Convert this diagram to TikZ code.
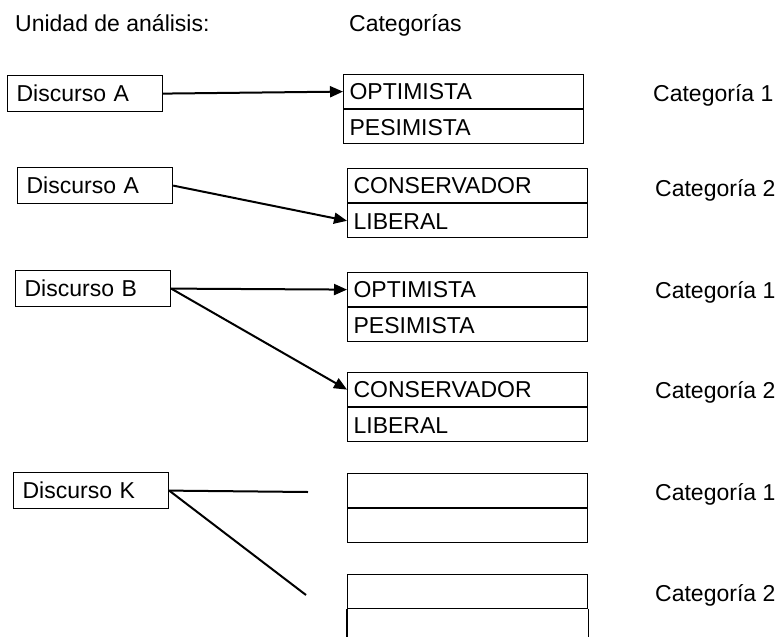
\documentclass[tikz,border=0pt]{standalone}
\usepackage{fontspec}
\setmainfont{Liberation Sans}
\usetikzlibrary{arrows.meta,positioning}

\begin{document}
\begin{tikzpicture}[
  x=1pt, y=-1pt,
  node distance=0pt,
  every node/.style={font=\fontsize{23}{27}\selectfont, text height=16.5pt, text depth=0pt},
  unitbox/.style={draw, line width=1.2pt, anchor=north west, align=left, inner xsep=9pt, inner ysep=0pt, text width=137pt, minimum height=36pt},
  catrow/.style={draw, line width=1.2pt, align=left, inner xsep=6pt, inner ysep=0pt, text width=228pt, minimum height=34pt},
  label/.style={anchor=west, inner sep=0pt},
  arr/.style={-{Triangle[length=13pt,width=11pt]}, line width=2pt},
  ln/.style={line width=2pt}
]
\useasboundingbox (0,0) rectangle (779,637);
\coordinate (bottom) at (0,637);

% headers
\node[label] (hunit) at (15,23) {Unidad de análisis:};
\node[label] (hcat) at (349,23) {Categorías};

% units of analysis
\node[unitbox] (dA1) at (7,75) {Discurso A};
\node[unitbox] (dA2) at (17,167) {Discurso A};
\node[unitbox] (dB) at (15,270) {Discurso B};
\node[unitbox] (dK) at (13,472) {Discurso K};

% category boxes
\node[catrow, anchor=north west] (b1a) at (343,74) {OPTIMISTA};
\node[catrow, below=of b1a] (b1b) {PESIMISTA};
\node[catrow, anchor=north west] (b2a) at (347,168) {CONSERVADOR};
\node[catrow, below=of b2a] (b2b) {LIBERAL};
\node[catrow, anchor=north west] (b3a) at (347,272) {OPTIMISTA};
\node[catrow, below=of b3a] (b3b) {PESIMISTA};
\node[catrow, anchor=north west] (b4a) at (347,372) {CONSERVADOR};
\node[catrow, below=of b4a] (b4b) {LIBERAL};
\node[catrow, anchor=north west] (b5a) at (347,473) {};
\node[catrow, below=of b5a] (b5b) {};
\node[catrow, anchor=north west] (b6a) at (347,574) {};
\node[catrow, draw=none, below=of b6a] (b6b) {};
\draw[line width=1.2pt] (b6b.north west) -- (b6b.north west |- bottom);
\draw[line width=1.2pt] (b6b.north east) -- (b6b.north east |- bottom);

% category labels
\node[label] (cat1) at (653,93) {Categoría 1};
\node[label] (cat2) at (655,188) {Categoría 2};
\node[label] (cat3) at (655,290) {Categoría 1};
\node[label] (cat4) at (655,390) {Categoría 2};
\node[label] (cat5) at (655,492) {Categoría 1};
\node[label] (cat6) at (655,593) {Categoría 2};

% connectors
\coordinate (kend1) at (308,492);
\coordinate (kend2) at (306,595);
\draw[arr] (dA1.east) -- (b1a.west);
\draw[arr] (dA2.east) -- (b2b.west);
\draw[arr] (dB.east) -- (b3a.west);
\draw[arr] (dB.east) -- (b4a.west);
\draw[ln] (dK.east) -- (kend1);
\draw[ln] (dK.east) -- (kend2);
\end{tikzpicture}
\end{document}
